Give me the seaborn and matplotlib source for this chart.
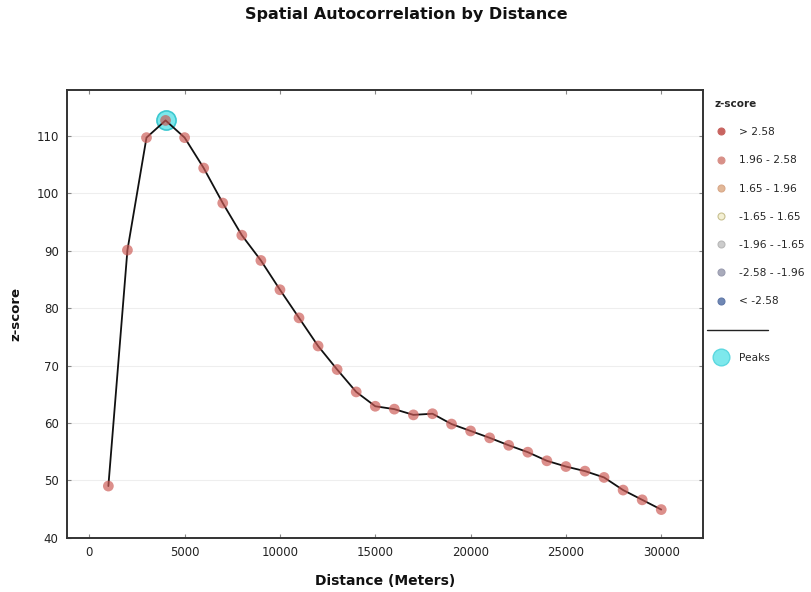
import matplotlib
matplotlib.use("Agg")
import matplotlib.pyplot as plt
from matplotlib.lines import Line2D
import seaborn as sns
import pandas as pd

distance = [1000, 2000, 3000, 4000, 5000, 6000, 7000, 8000, 9000, 10000,
            11000, 12000, 13000, 14000, 15000, 16000, 17000, 18000, 19000, 20000,
            21000, 22000, 23000, 24000, 25000, 26000, 27000, 28000, 29000, 30000]
zscore = [49.0, 90.1, 109.7, 112.7, 109.7, 104.4, 98.3, 92.7, 88.3, 83.2,
          78.3, 73.4, 69.3, 65.4, 62.9, 62.4, 61.4, 61.6, 59.8, 58.6,
          57.4, 56.1, 54.9, 53.4, 52.4, 51.6, 50.5, 48.3, 46.6, 44.9]
peak_distance = [4000]
peak_zscore = [112.7]

legend_labels = ["> 2.58", "1.96 - 2.58", "1.65 - 1.96", "-1.65 - 1.65",
                 "-1.96 - -1.65", "-2.58 - -1.96", "< -2.58"]
legend_colors = ["#c86460", "#d89088", "#e2b898", "#f4f0d4",
                 "#cccccc", "#a9abbb", "#7088b4"]
legend_edges = ["#c86460", "#d89088", "#d8a888", "#c8c090",
                "#b8b8b8", "#9a9cb0", "#6078a8"]

df = pd.DataFrame({"Distance": distance, "z": zscore})
dfp = pd.DataFrame({"Distance": peak_distance, "z": peak_zscore})

sns.set_style("white")
plt.rcParams["font.family"] = ["DejaVu Sans"]

fig = plt.figure(figsize=(8.12, 5.92), dpi=100)
ax = fig.add_axes([0.0825, 0.0917, 0.7835, 0.7563])

sns.scatterplot(data=dfp, x="Distance", y="z", ax=ax, s=190, color="#7de8ec",
                edgecolor="#3cc8d0", linewidth=1.2, zorder=2, legend=False)
sns.lineplot(data=df, x="Distance", y="z", ax=ax, color="#111111", linewidth=1.3,
             zorder=3, legend=False)
sns.scatterplot(data=df, x="Distance", y="z", ax=ax, s=60, color="#cc5a55",
                alpha=0.68, edgecolor="none", zorder=4, legend=False)

ax.set_xlim(-1170, 32200)
ax.set_ylim(40, 118)
ax.set_xticks([0, 5000, 10000, 15000, 20000, 25000, 30000])
ax.set_yticks([40, 50, 60, 70, 80, 90, 100, 110])
ax.yaxis.grid(True, color="#eeeeee", linewidth=0.8)
ax.xaxis.grid(False)
ax.set_axisbelow(True)
for sp in ax.spines.values():
    sp.set_visible(True)
    sp.set_color("#333333")
    sp.set_linewidth(1.4)
ax.tick_params(axis="both", which="both", direction="in", length=3, width=0.8,
               color="#888888", labelsize=8.5, labelcolor="#222222",
               top=True, right=True, bottom=True, left=True, pad=6)

ax.set_xlabel("Distance (Meters)", fontsize=10, fontweight="bold", labelpad=11,
              color="#111111")
ax.set_ylabel("z-score", fontsize=9.5, fontweight="bold", labelpad=10,
              color="#111111")
fig.suptitle("Spatial Autocorrelation by Distance", fontsize=11.5, fontweight="bold",
             x=0.5, y=0.988, color="#111111")

handles = [Line2D([], [], linestyle="none", marker="o", markersize=5,
                  markerfacecolor=c, markeredgecolor=e, markeredgewidth=0.8)
           for c, e in zip(legend_colors, legend_edges)]
handles.append(Line2D([], [], linestyle="none", marker=None))
handles.append(Line2D([], [], linestyle="none", marker="o", markersize=12,
                      markerfacecolor="#7de8ec", markeredgecolor="#5cd8e0"))
labels = legend_labels + ["", "Peaks"]
leg = ax.legend(handles, labels, loc="upper left", bbox_to_anchor=(0.875, 0.84),
                bbox_transform=fig.transFigure, frameon=False, fontsize=7.7,
                title="z-score", title_fontproperties={"weight": "bold", "size": 7.5},
                labelspacing=1.7, handlelength=1.2, handletextpad=1.1,
                borderaxespad=0)
leg._legend_box.align = "left"

fig.add_artist(Line2D([707 / 812, 768 / 812], [1 - 330 / 592, 1 - 330 / 592],
                      transform=fig.transFigure, color="#222222", linewidth=1.0))

fig.savefig("out.png", dpi=100)
